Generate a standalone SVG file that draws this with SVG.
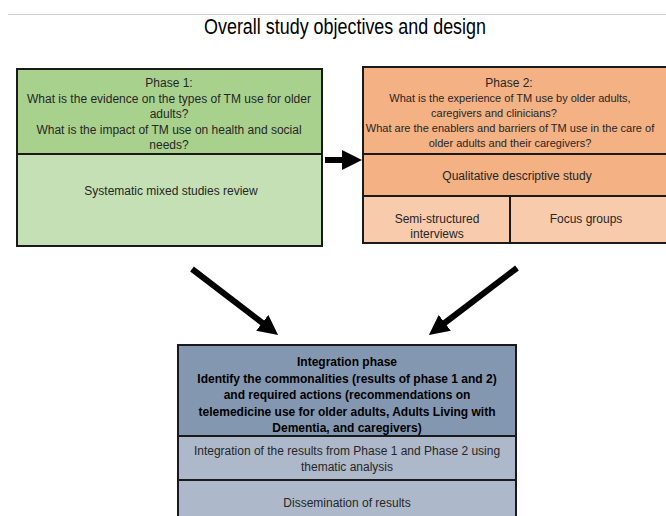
<svg xmlns="http://www.w3.org/2000/svg" width="666" height="516" viewBox="0 0 666 516">
<defs>
<marker id="ah" markerUnits="userSpaceOnUse" markerWidth="20" markerHeight="20" viewBox="0 0 20 20" refX="6" refY="10" orient="auto">
<path d="M0,0 L20,10 L0,20 z" fill="#000"/>
</marker>
<style>
.t{font-family:"Liberation Sans",Arial,sans-serif;font-size:12px;fill:#262626;text-anchor:middle}
.s{font-family:"Liberation Sans",Arial,sans-serif;font-size:11px;fill:#262626;text-anchor:middle}
.b{font-family:"Liberation Sans",Arial,sans-serif;font-size:12px;font-weight:bold;fill:#000;text-anchor:middle}
.box{stroke:#1a1a1a;stroke-width:2}
.conn{stroke:#000;stroke-width:6;fill:none;marker-end:url(#ah)}
</style>
</defs>
<rect width="666" height="516" fill="#fff"/>
<line x1="8" y1="14.5" x2="666" y2="14.5" stroke="#d0d0d0" stroke-width="1"/>
<text x="345" y="34" font-family="'Liberation Sans Narrow','Liberation Sans',Arial,sans-serif" font-size="22" fill="#000" text-anchor="middle" textLength="282" lengthAdjust="spacingAndGlyphs">Overall study objectives and design</text>

<g id="phase1">
<rect class="box" x="17" y="69" width="305" height="85" fill="#a9d18e"/>
<rect class="box" x="17" y="154" width="305" height="92" fill="#c5e0b4"/>
<text class="t" x="169" y="87" fill="#000">Phase 1:</text>
<text class="t" x="169" y="102.5">What is the evidence on the types of TM use for older</text>
<text class="t" x="169" y="118">adults?</text>
<text class="t" x="169" y="133.5">What is the impact of TM use on health and social</text>
<text class="t" x="169" y="149">needs?</text>
<text class="t" x="171" y="195">Systematic mixed studies review</text>
</g>

<g id="phase2">
<rect class="box" x="363" y="67" width="310" height="87" fill="#f4b183"/>
<rect class="box" x="363" y="154" width="310" height="42" fill="#f4b183"/>
<rect class="box" x="363" y="196" width="147" height="47" fill="#f8cbad"/>
<rect class="box" x="510" y="196" width="163" height="47" fill="#f8cbad"/>
<text class="t" x="509" y="87">Phase 2:</text>
<text class="s" x="510" y="102">What is the experience of TM use by older adults,</text>
<text class="s" x="494" y="117">caregivers and clinicians?</text>
<text class="s" x="510" y="132">What are the enablers and barriers of TM use in the care of</text>
<text class="s" x="510" y="147">older adults and their caregivers?</text>
<text class="t" x="517" y="180">Qualitative descriptive study</text>
<text class="t" x="437" y="223">Semi-structured</text>
<text class="t" x="437" y="238">interviews</text>
<text class="t" x="586" y="223">Focus groups</text>
</g>

<g id="integration">
<rect class="box" x="178" y="345" width="338" height="91" fill="#8497b0"/>
<rect class="box" x="178" y="436" width="338" height="44" fill="#adb9ca"/>
<rect class="box" x="178" y="480" width="338" height="40" fill="#adb9ca"/>
<text class="b" x="347" y="366">Integration phase</text>
<text class="b" x="347" y="382.5">Identify the commonalities (results of phase 1 and 2)</text>
<text class="b" x="347" y="399">and required actions (recommendations on</text>
<text class="b" x="347" y="415.5">telemedicine use for older adults, Adults Living with</text>
<text class="b" x="347" y="432">Dementia, and caregivers)</text>
<text class="t" x="347" y="455">Integration of the results from Phase 1 and Phase 2 using</text>
<text class="t" x="347" y="471">thematic analysis</text>
<text class="t" x="347" y="507">Dissemination of results</text>
</g>

<g id="connectors">
<line class="conn" x1="325" y1="160" x2="348" y2="160"/>
<line class="conn" x1="192" y1="269" x2="267" y2="326.5"/>
<line class="conn" x1="517" y1="268" x2="440" y2="326.5"/>
</g>
</svg>
